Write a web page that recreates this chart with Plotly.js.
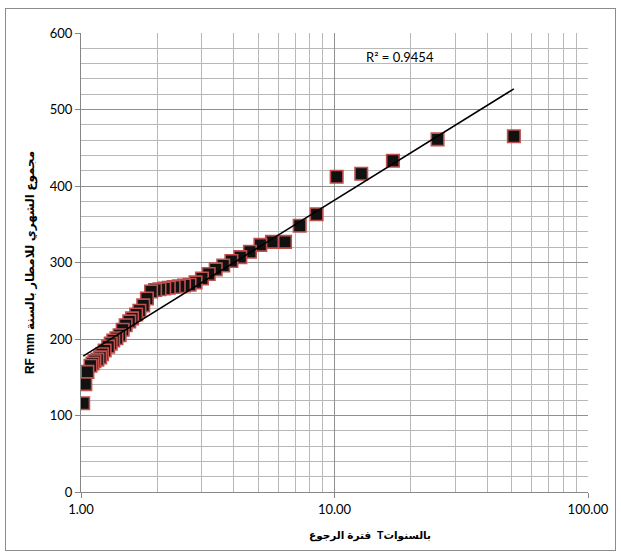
<!DOCTYPE html>
<html><head><meta charset="utf-8">
<script src="https://cdn.plot.ly/plotly-3.0.1.min.js"></script>
<style>
html,body{margin:0;padding:0;background:#fff;}
#frame{position:absolute;left:5px;top:8px;width:611px;height:543px;border:1px solid #8c8c8c;box-sizing:border-box;}
#chart{position:absolute;left:0;top:0;width:621px;height:552px;}
</style></head><body>
<div id="frame"></div>
<div id="chart"></div>
<script>
// Return period T (years) for each ranked record
const returnPeriod = [51.00, 25.50, 17.00, 12.75, 10.20, 8.50, 7.29, 6.38, 5.67, 5.10,
  4.64, 4.25, 3.92, 3.64, 3.40, 3.19, 3.00, 2.83, 2.68, 2.55,
  2.43, 2.32, 2.22, 2.13, 2.04, 1.96, 1.89, 1.82, 1.76, 1.70,
  1.65, 1.59, 1.55, 1.50, 1.46, 1.42, 1.38, 1.34, 1.31, 1.28,
  1.24, 1.21, 1.19, 1.16, 1.13, 1.11, 1.09, 1.06, 1.04, 1.02];
// Annual rainfall total (mm)
const rainfall = [465, 461, 433, 416, 412, 363, 348, 327, 327, 323,
  314, 307, 302, 296, 291, 285, 279, 274, 271, 270,
  269, 268, 267, 266, 265, 264, 262, 253, 244, 237,
  232, 227, 223, 218, 212, 205, 201, 198, 194, 190,
  185, 180, 176, 173, 171, 168, 165, 157, 141, 116];
const xTickVals = [1, 10, 100];
const xTickText = ['1.00', '10.00', '100.00'];
const rSquaredLabel = 'R² = 0.9454';
const xTitle = 'فترة الرجوع  Tبالسنوات';
const yTitle = 'RF mm مجموع الشهري للامطار بالسنة';

// logarithmic trendline y = a + b ln(T), least squares
const lx = returnPeriod.map(Math.log);
const n = lx.length;
const mx = lx.reduce((s, v) => s + v, 0) / n;
const my = rainfall.reduce((s, v) => s + v, 0) / n;
let sxy = 0, sxx = 0;
for (let i = 0; i < n; i++) { sxy += (lx[i] - mx) * (rainfall[i] - my); sxx += (lx[i] - mx) ** 2; }
const b = sxy / sxx, a = my - b * mx;
const tMin = Math.min(...returnPeriod), tMax = Math.max(...returnPeriod);
const trendX = [], trendY = [];
for (let k = 0; k <= 20; k++) {
  const t = Math.exp(Math.log(tMin) + (Math.log(tMax) - Math.log(tMin)) * k / 20);
  trendX.push(t); trendY.push(a + b * Math.log(t));
}

const tickFont = {family: 'Lato, Liberation Sans, sans-serif', size: 13, color: '#000'};
const titleFont = {family: 'Liberation Sans, DejaVu Sans, sans-serif', size: 12, color: '#000', weight: 'bold'};

const data = [
  {x: returnPeriod, y: rainfall, type: 'scatter', mode: 'markers',
   marker: {symbol: 'square', size: 12.5, color: '#111111', line: {color: '#c0504d', width: 1.6}},
   hoverinfo: 'x+y'},
  {x: trendX, y: trendY, type: 'scatter', mode: 'lines',
   line: {color: '#000000', width: 1.6}, hoverinfo: 'skip'}
];

const layout = {
  width: 621, height: 552,
  margin: {l: 81, r: 33, t: 33, b: 60},
  paper_bgcolor: 'rgba(0,0,0,0)', plot_bgcolor: 'rgba(0,0,0,0)',
  showlegend: false,
  xaxis: {
    type: 'log', range: [0, 2],
    tickvals: xTickVals, ticktext: xTickText,
    showgrid: true, gridcolor: '#909090', gridwidth: 1,
    minor: {showgrid: true, gridcolor: '#b8b8b8', gridwidth: 1, dtick: 'D1'},
    showline: true, linecolor: '#868686', linewidth: 1,
    ticks: 'outside', ticklen: 5, tickcolor: '#868686',
    tickfont: tickFont, zeroline: false
  },
  yaxis: {
    range: [0, 600], dtick: 100, tick0: 0,
    showgrid: true, gridcolor: '#909090', gridwidth: 1,
    minor: {showgrid: true, gridcolor: '#b8b8b8', gridwidth: 1, dtick: 20},
    showline: true, linecolor: '#868686', linewidth: 1,
    ticks: 'outside', ticklen: 5, tickcolor: '#868686',
    tickfont: tickFont, zeroline: false,
    title: {text: yTitle, font: titleFont, standoff: 12}
  },
  annotations: [{
    xref: 'x', yref: 'y', x: Math.log10(13.1), y: 569,
    text: rSquaredLabel, showarrow: false, xanchor: 'left', yanchor: 'middle',
    font: {family: 'Lato, Liberation Sans, sans-serif', size: 13, color: '#000'}
  }, {
    xref: 'paper', yref: 'paper', x: 0.57, y: -0.095,
    text: xTitle, showarrow: false, xanchor: 'center', yanchor: 'middle',
    font: {family: 'Liberation Sans, DejaVu Sans, sans-serif', size: 10.5, color: '#000', weight: 'bold'}
  }]
};

Plotly.newPlot('chart', data, layout, {displayModeBar: false, staticPlot: true});
</script>
</body></html>
